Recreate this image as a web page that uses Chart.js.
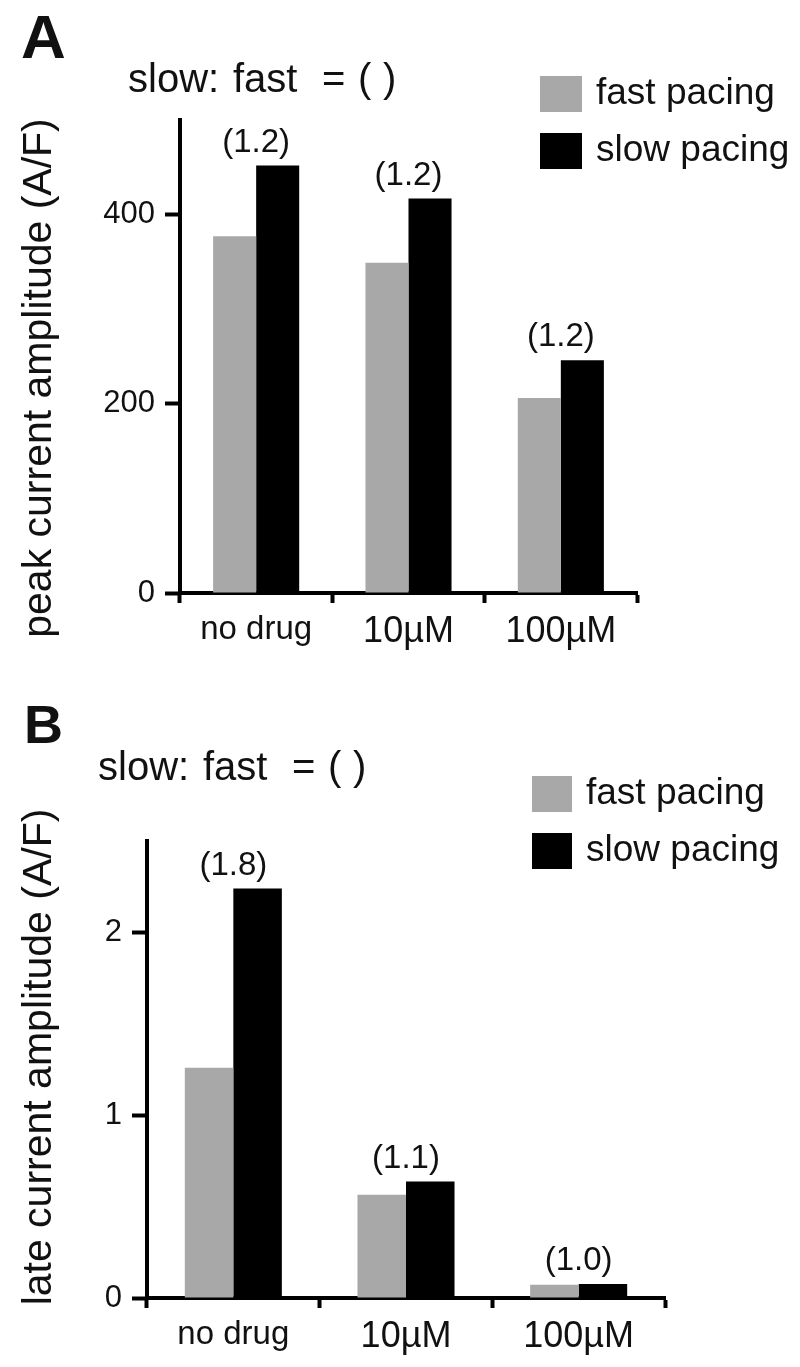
<!DOCTYPE html>
<html>
<head>
<meta charset="utf-8">
<script src="https://cdn.jsdelivr.net/npm/chart.js@4"></script>
<style>
  body { margin: 0; background: #fff; }
  canvas { position: absolute; left: 0; }
</style>
</head>
<body>
<canvas id="chartA" width="800" height="660" style="top:0"></canvas>
<canvas id="chartB" width="800" height="707" style="top:660px"></canvas>
<script>
// data
const categories = ['no drug', '10µM', '100µM'];
const seriesNames = ['fast pacing', 'slow pacing'];
const fastPeak = [377, 349, 206];
const slowPeak = [452, 417, 246];
const peakTicks = [0, 200, 400];
const peakRatios = ['(1.2)', '(1.2)', '(1.2)'];
const fastLate = [1.26, 0.565, 0.072];
const slowLate = [2.24, 0.637, 0.076];
const lateTicks = [0, 1, 2];
const lateRatios = ['(1.8)', '(1.1)', '(1.0)'];

const FONT = '"Liberation Sans", Arial, Helvetica, sans-serif';
const INK = '#111';
const GRAY = '#a8a8a8';
const subParts = ['slow:', 'fast', '=', '(', ')'];
const subOffsets = [0, 105, 194, 230, 255];

// extra text: panel letter, subtitle, legend, ratios, y title
const decor = {
  id: 'decor',
  afterDraw(chart, args, o) {
    const ctx = chart.ctx;
    ctx.save();
    ctx.fillStyle = INK;
    ctx.textBaseline = 'alphabetic';
    ctx.textAlign = 'left';
    ctx.font = 'bold ' + o.letterSize + 'px ' + FONT;
    ctx.fillText(o.letter, o.letterX, o.letterY);

    ctx.font = '40px ' + FONT;
    subParts.forEach((s, i) => ctx.fillText(s, o.subX + subOffsets[i], o.subY));

    ctx.font = '37px ' + FONT;
    ctx.textBaseline = 'middle';
    chart.data.datasets.forEach((ds, i) => {
      const y = o.legY + i * 57;
      ctx.fillStyle = ds.backgroundColor;
      ctx.fillRect(o.legX, y, o.legW, 36);
      ctx.fillStyle = INK;
      ctx.fillText(ds.label, o.legX + o.legW + 14, y + 18);
    });

    ctx.textAlign = 'center';
    ctx.font = '33px ' + FONT;
    chart.getDatasetMeta(1).data.forEach((bar, i) => {
      ctx.fillText(o.ratios[i], bar.x - bar.width / 2, bar.y - 23);
    });

    ctx.font = '41px ' + FONT;
    ctx.translate(o.titleX, o.titleY);
    ctx.rotate(-Math.PI / 2);
    ctx.fillText(o.title, 0, 0);
    ctx.restore();
  }
};

function makeChart(id, fast, slow, ticks, max, cfg) {
  return new Chart(document.getElementById(id), {
    type: 'bar',
    data: {
      labels: categories,
      datasets: [
        { label: seriesNames[0], data: fast, backgroundColor: GRAY },
        { label: seriesNames[1], data: slow, backgroundColor: '#000' }
      ]
    },
    options: {
      responsive: false,
      animation: false,
      layout: { padding: { left: 0, top: cfg.top, right: cfg.right, bottom: 0 } },
      datasets: { bar: { categoryPercentage: cfg.catPct, barPercentage: 1, borderWidth: 0 } },
      plugins: {
        legend: { display: false },
        tooltip: { enabled: false },
        decor: cfg.decor
      },
      scales: {
        x: {
          grid: { drawOnChartArea: false, tickLength: 10, tickWidth: 4, tickColor: '#000' },
          border: { color: '#000', width: 4 },
          ticks: {
            color: INK,
            padding: 7,
            font: (c) => ({ family: FONT, size: c.index === 0 ? 33 : 36 })
          },
          afterFit: (s) => { s.height = cfg.xHeight; }
        },
        y: {
          min: 0,
          max: max,
          grid: { drawOnChartArea: false, tickLength: 15, tickWidth: 4, tickColor: '#000' },
          border: { color: '#000', width: 4 },
          ticks: { color: INK, padding: 10, font: { family: FONT, size: 31 } },
          afterBuildTicks: (s) => { s.ticks = ticks.map(v => ({ value: v })); },
          afterFit: (s) => { s.width = cfg.left; }
        }
      }
    },
    plugins: [decor]
  });
}

makeChart('chartA', fastPeak, slowPeak, peakTicks, 500, {
  top: 120, right: 163, left: 180, xHeight: 67, catPct: 0.565,
  decor: {
    letter: 'A', letterSize: 62, letterX: 21, letterY: 58,
    subX: 128, subY: 92,
    legX: 540, legY: 76, legW: 42,
    ratios: peakRatios,
    title: 'peak current amplitude (A/F)', titleX: 40, titleY: 378
  }
});

makeChart('chartB', fastLate, slowLate, lateTicks, 2.5, {
  top: 181, right: 135, left: 147, xHeight: 69, catPct: 0.562,
  decor: {
    letter: 'B', letterSize: 54, letterX: 24, letterY: 83,
    subX: 98, subY: 120,
    legX: 532, legY: 116, legW: 40,
    ratios: lateRatios,
    title: 'late current amplitude (A/F)', titleX: 40, titleY: 397
  }
});
</script>
</body>
</html>
